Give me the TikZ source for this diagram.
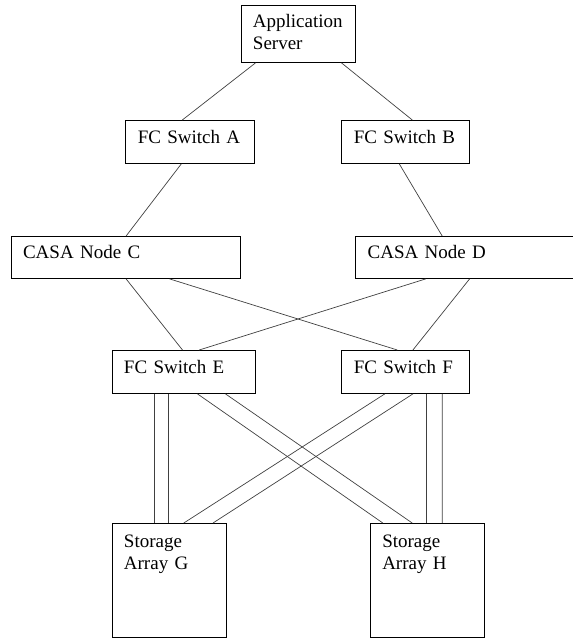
\documentclass[tikz,border=0pt]{standalone}
\usepackage{fontspec}
\setmainfont{Liberation Serif}
\begin{document}
\begin{tikzpicture}[x=1pt,y=-1pt,
    box/.style={rectangle,draw,anchor=north west,align=left,inner xsep=12pt,inner ysep=0pt,
      text height=23pt,line width=0.9pt,font=\fontsize{19}{22.5}\selectfont},
    link/.style={line width=0.7pt,black!75}]
    \useasboundingbox (0,0) rectangle (573,638);
    \clip (0,0) rectangle (573,638);
    \node[box, text width=90pt, text height=22pt, text depth=35pt] at (240.5,5) (srv) {Application\\Server};
    \node[box, text width=105pt, text depth=20pt] at (125.3,120) (swA) {FC Switch A};
    \node[box, text width=104pt, text depth=20pt] at (341.3,120) (swB) {FC Switch B};
    \node[box, text width=205pt, text height=22pt, text depth=20pt] at (10.6,236) (casaC) {CASA Node C};
    \node[box, text width=230pt, text height=22pt, text depth=20pt] at (355.2,236) (casaD) {CASA Node D};
    \node[box, text width=119pt, text depth=20pt] at (111.5,350) (swE) {FC Switch E};
    \node[box, text width=104pt, text depth=20pt] at (341.3,350) (swF) {FC Switch F};
    \node[box, text width=90pt, text height=24pt, text depth=90pt] at (111.5,523) (stG) {Storage\\Array G};
    \node[box, text width=90pt, text height=24pt, text depth=90pt] at (369.8,523) (stH) {Storage\\Array H};
    % server to first switches
    \draw[link] ([xshift=15pt]srv.south west) -- ([xshift=57pt]swA.north west);
    \draw[link] ([xshift=101pt]srv.south west) -- ([xshift=71pt]swB.north west);
    % switches to CASA nodes
    \draw[link] ([xshift=56pt]swA.south west) -- ([xshift=115.5pt]casaC.north west);
    \draw[link] ([xshift=58pt]swB.south west) -- ([xshift=87pt]casaD.north west);
    % CASA nodes to second switches
    \draw[link] ([xshift=115.5pt]casaC.south west) -- ([xshift=71pt]swE.north west);
    \draw[link] ([xshift=159pt]casaC.south west) -- ([xshift=56pt]swF.north west);
    \draw[link] ([xshift=70.5pt]casaD.south west) -- ([xshift=87.7pt]swE.north west);
    \draw[link] ([xshift=114.4pt]casaD.south west) -- ([xshift=71.6pt]swF.north west);
    % switches to storage, two paths each
    \draw[link] ([xshift=43pt]swE.south west) -- ([xshift=43pt]stG.north west);
    \draw[link] ([xshift=57pt]swE.south west) -- ([xshift=57pt]stG.north west);
    \draw[link] ([xshift=86pt]swE.south west) -- ([xshift=13pt]stH.north west);
    \draw[link] ([xshift=114pt]swE.south west) -- ([xshift=42.4pt]stH.north west);
    \draw[link] ([xshift=43.5pt]swF.south west) -- ([xshift=72.3pt]stG.north west);
    \draw[link] ([xshift=71.6pt]swF.south west) -- ([xshift=101.5pt]stG.north west);
    \draw[link] ([xshift=85.5pt]swF.south west) -- ([xshift=57pt]stH.north west);
    \draw[link] ([xshift=101pt]swF.south west) -- ([xshift=72.4pt]stH.north west);
\end{tikzpicture}
\end{document}
